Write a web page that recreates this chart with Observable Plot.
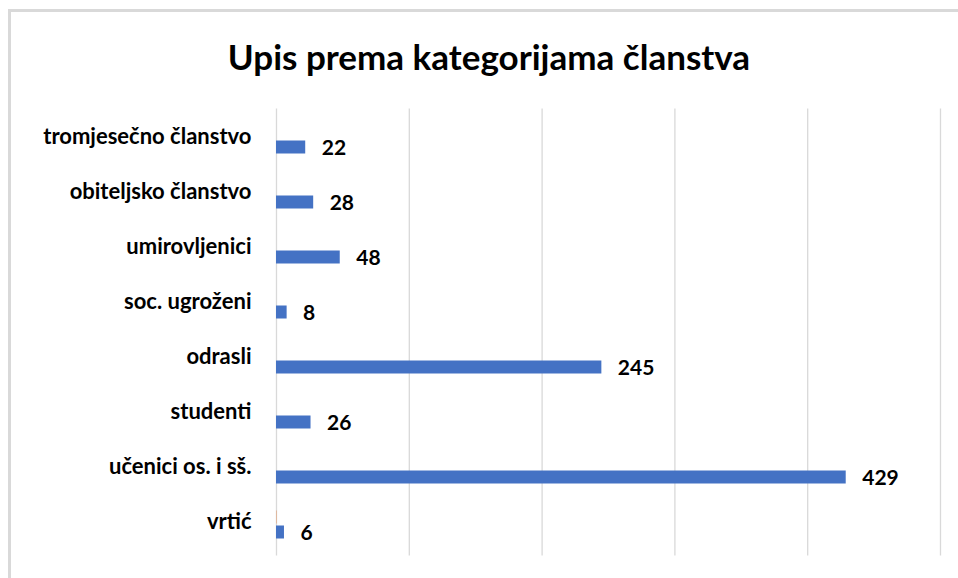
<!DOCTYPE html>
<html>
<head>
<meta charset="utf-8">
<script src="https://cdn.jsdelivr.net/npm/d3@7"></script>
<script src="https://cdn.jsdelivr.net/npm/@observablehq/plot@0.6"></script>
<style>
  html, body { margin: 0; padding: 0; background: #fff; overflow: hidden; }
  #wrap { position: relative; width: 958px; height: 578px; overflow: hidden; font-family: Lato, "Open Sans", sans-serif; }
  #frame { position: absolute; left: 8px; top: 9px; width: 1000px; height: 700px; border-left: 3px solid #d9d9d9; border-top: 3px solid #d9d9d9; }
  #title { position: absolute; left: 0; top: 6px; width: 978px; height: 100px; text-align: center; font-weight: 700; font-size: 35px; line-height: 100px; color: #000; white-space: nowrap; }
  #chart { position: absolute; left: 0; top: 100px; }
</style>
</head>
<body>
<div id="wrap">
  <div id="frame"></div>
  <div id="title">Upis prema kategorijama članstva</div>
  <div id="chart"></div>
</div>
<script>
const categories = ["tromjesečno članstvo", "obiteljsko članstvo", "umirovljenici", "soc. ugroženi", "odrasli", "studenti", "učenici os. i sš.", "vrtić"];
const values = [22, 28, 48, 8, 245, 26, 429, 6];
const otherValues = [0, 0, 0, 0, 0, 0, 0, 0.5];
const xTicks = [0, 100, 200, 300, 400, 500];

const data = categories.map((c, i) => ({category: c, value: values[i]}));
const other = categories.map((c, i) => ({category: c, value: otherValues[i]}));

const chart = Plot.plot({
  width: 958,
  height: 478,
  marginLeft: 276,
  marginRight: 18,
  marginTop: 8.5,
  marginBottom: 22.5,
  style: {fontFamily: "Lato, 'Open Sans', sans-serif", color: "#000", background: "transparent"},
  x: {domain: [0, 500], axis: null},
  y: {domain: categories, padding: 0, axis: null},
  marks: [
    Plot.ruleX(xTicks, {stroke: "#d9d9d9", strokeWidth: 1.3}),
    Plot.barX(other, {x: "value", y: "category", fill: "#ED7D31", fillOpacity: 0.5, insetTop: 13.5, insetBottom: 28.5}),
    Plot.barX(data, {x: "value", y: "category", fill: "#4472C4", insetTop: 28.5, insetBottom: 13.5}),
    Plot.text(data, {x: "value", y: "category", text: d => String(d.value), dx: 16, dy: 8, textAnchor: "start", fontWeight: "bold", fontSize: 21, fill: "#000"}),
    Plot.axisY({tickSize: 0, tickPadding: 25, fontSize: 22, fontWeight: "bold", dy: -3, label: null, fill: "#000"})
  ]
});
document.getElementById("chart").appendChild(chart);
</script>
</body>
</html>
